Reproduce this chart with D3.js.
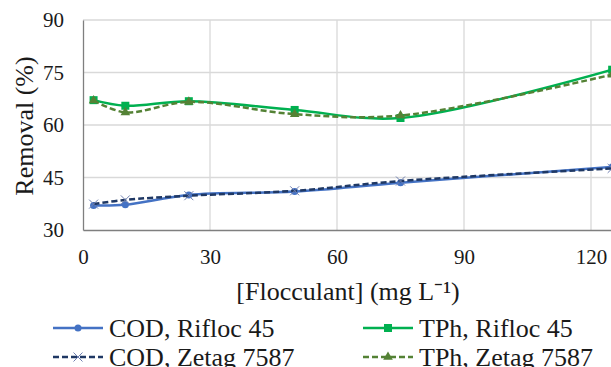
<!DOCTYPE html>
<html>
<head>
<meta charset="utf-8">
<script src="https://cdn.jsdelivr.net/npm/d3@7"></script>
</head>
<body style="margin:0">
<svg id="chart" width="611" height="367"></svg>
<script>
// values
var doses = [2.5, 10, 25, 50, 75, 125];
var codRifloc = [37, 37.2, 40, 41, 43.5, 48];
var codZetag = [37.4, 38.6, 39.8, 41.2, 44, 47.6];
var tphRifloc = [67.1, 65.5, 66.8, 64.3, 62, 75.8];
var tphZetag = [67, 63.6, 66.6, 63.1, 62.7, 74.4];
var xTicks = [0, 30, 60, 90, 120, 150];
var yTicks = [30, 45, 60, 75, 90];

var series = [
  { name: "COD, Rifloc 45", values: codRifloc, color: "#4472C4", dash: null, marker: "circle" },
  { name: "TPh, Rifloc 45", values: tphRifloc, color: "#00B050", dash: null, marker: "square" },
  { name: "COD, Zetag 7587", values: codZetag, color: "#1F3864", dash: "6,3", marker: "cross" },
  { name: "TPh, Zetag 7587", values: tphZetag, color: "#548235", dash: "6,3", marker: "triangle" }
];

var svg = d3.select("#chart");
var fontStack = "Times New Roman";
var plotLeft = 83, plotTop = 20, plotBottom = 230;

var x = d3.scaleLinear().domain([0, 150]).range([plotLeft, plotLeft + 150 * 127 / 30]);
var y = d3.scaleLinear().domain([30, 90]).range([plotBottom, plotTop]);

// grid
svg.append("g").selectAll("line")
  .data(yTicks.slice(1)).enter().append("line")
    .attr("x1", plotLeft).attr("x2", 620)
    .attr("y1", function(d) { return y(d); }).attr("y2", function(d) { return y(d); })
    .attr("stroke", "#d9d9d9").attr("stroke-width", 1.3);
svg.append("g").selectAll("line")
  .data(xTicks.slice(1)).enter().append("line")
    .attr("x1", function(d) { return x(d); }).attr("x2", function(d) { return x(d); })
    .attr("y1", plotTop).attr("y2", plotBottom)
    .attr("stroke", "#d9d9d9").attr("stroke-width", 1.3);

// axes
var xAxis = svg.append("g").attr("transform", "translate(0," + plotBottom + ")")
  .call(d3.axisBottom(x).tickValues(xTicks).tickSize(0).tickPadding(19));
var yAxis = svg.append("g").attr("transform", "translate(" + plotLeft + ",0)")
  .call(d3.axisLeft(y).tickValues(yTicks).tickSize(0).tickPadding(19));
[xAxis, yAxis].forEach(function(a) {
  a.attr("font-family", null).attr("font-size", null);
  a.select(".domain").attr("stroke", "#7f7f7f").attr("stroke-width", 1.3);
  a.selectAll("text").attr("fill", "#1a1a1a")
    .style("font-family", fontStack).style("font-size", "21px");
});

// axis titles
svg.append("text")
  .attr("x", 348).attr("y", 300)
  .attr("text-anchor", "middle")
  .style("font-family", fontStack).style("font-size", "26px").attr("fill", "#1a1a1a")
  .text("[Flocculant] (mg L\u207B\u00B9)");
svg.append("text")
  .attr("transform", "translate(33,126) rotate(-90)")
  .attr("text-anchor", "middle")
  .style("font-family", fontStack).style("font-size", "26px").attr("fill", "#1a1a1a")
  .text("Removal (%)");

var line = d3.line()
  .x(function(d, i) { return x(doses[i]); })
  .y(function(d) { return y(d); })
  .curve(d3.curveCatmullRom.alpha(0.5));

function drawMarker(g, type, color, cx, cy) {
  if (type === "circle") {
    g.append("circle").attr("cx", cx).attr("cy", cy).attr("r", 3.5).attr("fill", color);
  } else if (type === "square") {
    g.append("rect").attr("x", cx - 4).attr("y", cy - 4).attr("width", 8).attr("height", 8).attr("fill", color);
  } else if (type === "cross") {
    g.append("path").attr("d", "M" + (cx - 4.5) + "," + (cy - 4.5) + "L" + (cx + 4.5) + "," + (cy + 4.5) +
        "M" + (cx - 4.5) + "," + (cy + 4.5) + "L" + (cx + 4.5) + "," + (cy - 4.5))
      .attr("stroke", "#6f7fb0").attr("stroke-width", 1).attr("fill", "none");
  } else if (type === "triangle") {
    g.append("path").attr("d", d3.symbol(d3.symbolTriangle, 40)()).attr("transform", "translate(" + cx + "," + cy + ")")
      .attr("fill", color);
  }
}

series.forEach(function(s) {
  var g = svg.append("g");
  g.append("path")
    .attr("d", line(s.values))
    .attr("fill", "none")
    .attr("stroke", s.color)
    .attr("stroke-width", 2.5)
    .attr("stroke-dasharray", s.dash);
  s.values.forEach(function(v, i) {
    drawMarker(g, s.marker, s.color, x(doses[i]), y(v));
  });
});

// legend
var legendPos = [[53, 328], [363, 328], [53, 357], [363, 357]];
series.forEach(function(s, i) {
  var p = legendPos[i];
  var g = svg.append("g");
  g.append("line")
    .attr("x1", p[0]).attr("x2", p[0] + 50)
    .attr("y1", p[1]).attr("y2", p[1])
    .attr("stroke", s.color).attr("stroke-width", 2.5)
    .attr("stroke-dasharray", s.dash);
  drawMarker(g, s.marker, s.color, p[0] + 25, p[1]);
  g.append("text")
    .attr("x", p[0] + 56).attr("y", p[1])
    .attr("dy", "0.33em")
    .style("font-family", fontStack).style("font-size", "26px").attr("fill", "#1a1a1a")
    .text(s.name);
});
</script>
</body>
</html>
